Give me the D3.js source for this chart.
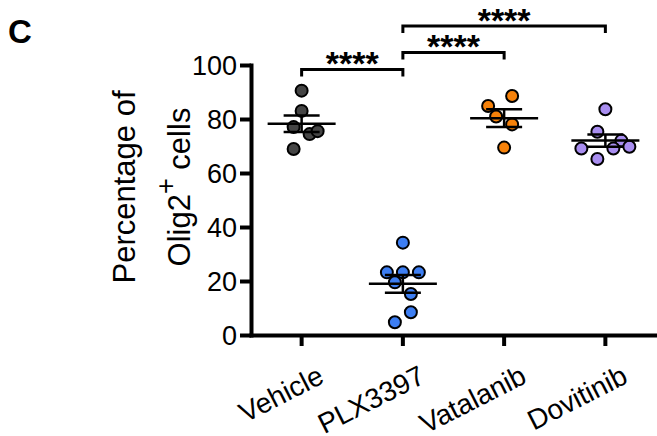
<!DOCTYPE html>
<html>
<head>
<meta charset="utf-8">
<script src="https://cdn.jsdelivr.net/npm/d3@7"></script>
<style>
  body { margin: 0; background: #fff; }
  svg text { font-family: Arial, "Liberation Sans", sans-serif; fill: #000; }
</style>
</head>
<body>
<svg id="chart" width="657" height="436"></svg>
<script>
(function() {
    // data
    var groups = ['Vehicle', 'PLX3397', 'Vatalanib', 'Dovitinib'];
    var colors = ['#454545', '#3d7ef2', '#f7820a', '#a98ef0'];

    var vehicle   = [90.5, 83.0, 77.0, 74.4, 75.5, 68.9];
    var plx3397   = [34.2, 23.2, 23.2, 23.2, 19.5, 15.2, 8.4, 4.7];
    var vatalanib = [88.5, 84.8, 80.9, 78.0, 69.4];
    var dovitinib = [83.6, 75.3, 72.0, 69.1, 69.1, 69.7, 65.2];

    // column-scatter slot of each point (Prism spreads overlapping points sideways)
    var vehicleSlot   = [0, 0, -1, 1, 2, -1];
    var plx3397Slot   = [0, -2, 0, 2, -1, 1, 1, -1];
    var vatalanibSlot = [1, -2, -1, 1, 0];
    var dovitinibSlot = [0, -1, 2, -3, 1, 3, -1];

    var yTicks = [0, 20, 40, 60, 80, 100];

    // significance brackets: from group, to group, level (in y units), label
    var comparisons = [
        {from: 'Vehicle', to: 'PLX3397', level: 98.3, label: '****'},
        {from: 'PLX3397', to: 'Vatalanib', level: 104.6, label: '****'},
        {from: 'PLX3397', to: 'Dovitinib', level: 114.4, label: '****'}
    ];

    var values = [vehicle, plx3397, vatalanib, dovitinib];
    var slots = [vehicleSlot, plx3397Slot, vatalanibSlot, dovitinibSlot];

    var svg = d3.select('#chart');
    var slotWidth = 8, radius = 6;

    var x = d3.scaleBand().domain(groups).range([251, 656]);
    var y = d3.scaleLinear().domain([0, 100]).range([335, 65]);
    var cx = function(g) { return x(g) + x.bandwidth() / 2; };

    // panel letter
    svg.append('text')
        .attr('x', 8).attr('y', 43)
        .attr('font-size', 33).attr('font-weight', 'bold')
        .text('C');

    // y axis
    var yAxis = svg.append('g')
        .attr('transform', 'translate(251,0)')
        .call(d3.axisLeft(y).tickValues(yTicks).tickSize(11).tickSizeOuter(0).tickPadding(3));
    yAxis.selectAll('path, line').attr('stroke', '#000').attr('stroke-width', 4);
    yAxis.selectAll('text').attr('font-size', 27).attr('font-family', null).attr('dy', '0.36em');

    // x axis
    var xAxis = svg.append('g')
        .attr('transform', 'translate(0,335)')
        .call(d3.axisBottom(x).tickSize(11).tickSizeOuter(0));
    xAxis.selectAll('path, line').attr('stroke', '#000').attr('stroke-width', 4);
    xAxis.selectAll('text')
        .attr('font-size', 28).attr('font-family', null)
        .attr('text-anchor', 'end')
        .attr('dy', null).attr('y', 0)
        .attr('transform', 'translate(24,47) rotate(-27)');
    svg.selectAll('.domain').attr('stroke-linecap', 'square');

    // y axis title
    var title = svg.append('g').attr('font-size', 31).attr('text-anchor', 'middle');
    title.append('text')
        .attr('transform', 'translate(135,187) rotate(-90)')
        .text('Percentage of');
    var t2 = title.append('text')
        .attr('transform', 'translate(190,187) rotate(-90)');
    t2.append('tspan').text('Olig2');
    t2.append('tspan').attr('font-size', 27).attr('dy', -15).text('+');
    t2.append('tspan').attr('dy', 15).text(' cells');

    // points, mean and SEM
    groups.forEach(function(g, i) {
        var vals = values[i];
        var m = d3.mean(vals);
        var sem = d3.deviation(vals) / Math.sqrt(vals.length);
        var c = cx(g);
        var gg = svg.append('g');

        gg.selectAll('circle')
            .data(vals)
            .enter().append('circle')
            .attr('cx', function(d, j) { return c + slots[i][j] * slotWidth; })
            .attr('cy', function(d) { return y(d); })
            .attr('r', radius)
            .attr('fill', colors[i])
            .attr('stroke', '#000')
            .attr('stroke-width', 2);

        gg.append('line')
            .attr('x1', c - 34).attr('x2', c + 34)
            .attr('y1', y(m)).attr('y2', y(m))
            .attr('stroke', '#000').attr('stroke-width', 2.5);
        gg.append('line')
            .attr('x1', c).attr('x2', c)
            .attr('y1', y(m + sem)).attr('y2', y(m - sem))
            .attr('stroke', '#000').attr('stroke-width', 2.5);
        [m + sem, m - sem].forEach(function(v) {
            gg.append('line')
                .attr('x1', c - 18).attr('x2', c + 18)
                .attr('y1', y(v)).attr('y2', y(v))
                .attr('stroke', '#000').attr('stroke-width', 2.5);
        });
    });

    // significance brackets
    comparisons.forEach(function(d) {
        var x1 = cx(d.from), x2 = cx(d.to), yy = y(d.level);
        svg.append('path')
            .attr('d', 'M' + x1 + ',' + (yy + 7) + 'V' + yy + 'H' + x2 + 'V' + (yy + 7))
            .attr('fill', 'none')
            .attr('stroke', '#000')
            .attr('stroke-width', 3);
        svg.append('text')
            .attr('x', (x1 + x2) / 2)
            .attr('y', yy - 14 + 0.57 * 34)
            .attr('text-anchor', 'middle')
            .attr('font-size', 34)
            .attr('font-weight', 'bold')
            .text(d.label);
    });
})();
</script>
</body>
</html>
